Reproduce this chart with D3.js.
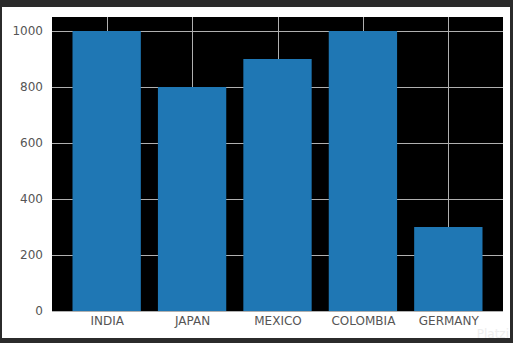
<!DOCTYPE html>
<html>
<head>
<meta charset="utf-8">
<script src="https://cdn.jsdelivr.net/npm/d3@7"></script>
<style>
  html, body { margin: 0; padding: 0; background: #2b2b2b; }
  svg { display: block; }
</style>
</head>
<body>
<svg id="chart" width="513" height="343"></svg>
<script>
var countries = ["INDIA", "JAPAN", "MEXICO", "COLOMBIA", "GERMANY"];
var values = [1000, 800, 900, 1000, 300];
var yTicks = [0, 200, 400, 600, 800, 1000];

var svg = d3.select("#chart"),
    width = +svg.attr("width"),
    height = +svg.attr("height");

// white figure panel inside the dark frame
svg.append("rect")
    .attr("x", 2).attr("y", 7)
    .attr("width", 508).attr("height", 331)
    .attr("fill", "#ffffff");

var margin = {left: 52, top: 17, right: 10, bottom: 32};
var plotW = width - margin.left - margin.right,
    plotH = height - margin.top - margin.bottom;

// matplotlib style limits: bars of width 0.8, 5% margins
var x = d3.scaleLinear().domain([-0.64, 4.64]).range([0, plotW]);
var y = d3.scaleLinear().domain([0, 1050]).range([plotH, 0]);

var g = svg.append("g").attr("transform", "translate(" + margin.left + "," + margin.top + ")");

g.append("rect")
    .attr("width", plotW).attr("height", plotH)
    .attr("fill", "#000000");

// grid
g.selectAll(".hgrid")
  .data(yTicks)
  .enter()
  .append("line")
    .attr("x1", 0).attr("x2", plotW)
    .attr("y1", function(d){ return Math.round(y(d)) + 0.5 })
    .attr("y2", function(d){ return Math.round(y(d)) + 0.5 })
    .attr("stroke", "#b0b0b0")
    .attr("stroke-width", 1);

g.selectAll(".vgrid")
  .data(countries)
  .enter()
  .append("line")
    .attr("y1", 0).attr("y2", plotH)
    .attr("x1", function(d, i){ return Math.round(x(i)) + 0.5 })
    .attr("x2", function(d, i){ return Math.round(x(i)) + 0.5 })
    .attr("stroke", "#b0b0b0")
    .attr("stroke-width", 1);

// bars
g.selectAll(".bar")
  .data(values)
  .enter()
  .append("rect")
    .attr("x", function(d, i){ return x(i - 0.4) })
    .attr("width", x(0.8) - x(0))
    .attr("y", function(d){ return y(d) })
    .attr("height", function(d){ return y(0) - y(d) })
    .attr("fill", "#1f77b4");

// y axis labels
var yAxis = d3.axisLeft(y).tickValues(yTicks).tickFormat(d3.format("d")).tickSize(0).tickPadding(9);
var ya = g.append("g").call(yAxis);
ya.select(".domain").remove();
ya.selectAll("text")
    .attr("fill", "#555555")
    .style("font-family", "DejaVu Sans")
    .style("font-size", "12px");

// x axis labels
var xAxis = d3.axisBottom(x)
    .tickValues(d3.range(countries.length))
    .tickFormat(function(i){ return countries[i] })
    .tickSize(0).tickPadding(5);
var xa = g.append("g").attr("transform", "translate(0," + plotH + ")").call(xAxis);
xa.select(".domain").remove();
xa.selectAll("text")
    .attr("fill", "#555555")
    .style("font-family", "DejaVu Sans")
    .style("font-size", "12px");

// faint watermark
svg.append("text")
    .attr("x", 509).attr("y", 338)
    .attr("text-anchor", "end")
    .attr("fill", "#eeeeee")
    .style("font-family", "DejaVu Sans")
    .style("font-size", "12px")
    .text("Platzi");
</script>
</body>
</html>
